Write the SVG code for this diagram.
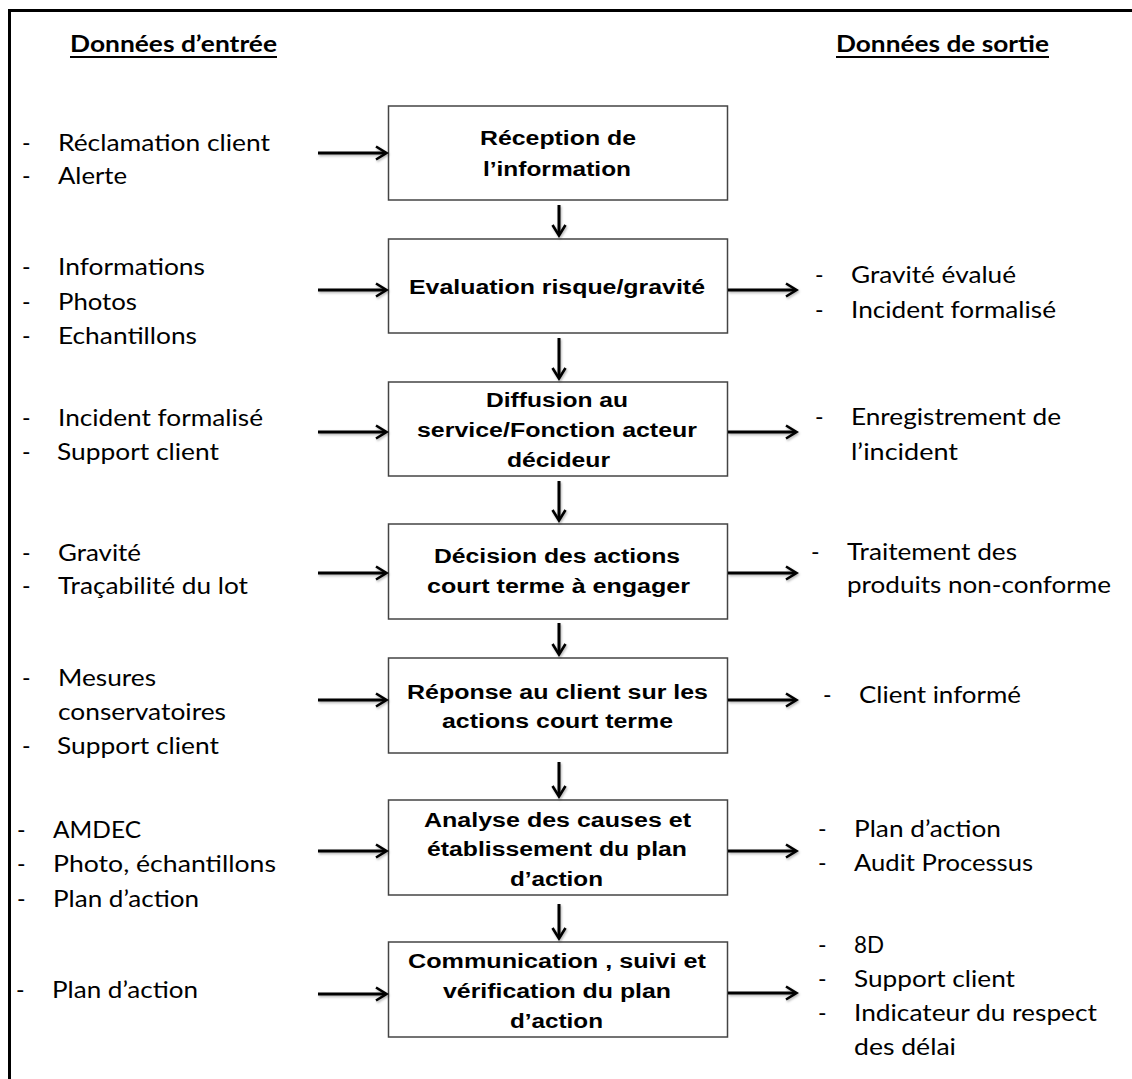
<svg xmlns="http://www.w3.org/2000/svg" width="1132" height="1079" viewBox="0 0 1132 1079">
<defs>
<style>
.frame{fill:none;stroke:#000;stroke-width:3}
.box{fill:#fff;stroke:#444;stroke-width:1.5}
.bt{font-family:"Liberation Sans",Arial,sans-serif;font-weight:bold;font-size:20px;fill:#000}
.lt{font-family:Lato,"Open Sans",sans-serif;font-size:23px;fill:#000}
.hd{font-family:Lato,"Open Sans",sans-serif;font-weight:bold;font-size:22px;fill:#000}
.ul{stroke:#000;stroke-width:2}
.con{stroke:#000;stroke-width:3;fill:none}
</style>
<marker id="arr" viewBox="0 0 16 16" refX="13" refY="8" markerWidth="16" markerHeight="16" markerUnits="userSpaceOnUse" orient="auto">
<path d="M3,1.5 L13.5,8 L3,14.5" fill="none" stroke="#000" stroke-width="2.6" stroke-linejoin="miter"/>
</marker>
<filter id="sh" x="-20%" y="-50%" width="140%" height="200%">
<feDropShadow dx="1" dy="1.5" stdDeviation="1" flood-color="#000" flood-opacity="0.3"/>
</filter>
</defs>

<polyline class="frame" points="9.5,1079 9.5,10.5 1132,10.5"/>

<g id="headers">
<text class="hd" x="70" y="52" textLength="207" lengthAdjust="spacingAndGlyphs">Données d’entrée</text>
<line class="ul" x1="70" y1="57" x2="277" y2="57"/>
<text class="hd" x="836" y="52" textLength="213" lengthAdjust="spacingAndGlyphs">Données de sortie</text>
<line class="ul" x1="836" y1="57" x2="1049" y2="57"/>
</g>

<g id="node1">
<rect class="box" x="388.5" y="106" width="339" height="94"/>
<text class="bt" x="480" y="145" textLength="156" lengthAdjust="spacingAndGlyphs">Réception de</text>
<text class="bt" x="483" y="176" textLength="148" lengthAdjust="spacingAndGlyphs">l’information</text>
</g>
<g id="node2">
<rect class="box" x="388.5" y="239" width="339" height="94"/>
<text class="bt" x="409" y="294" textLength="296" lengthAdjust="spacingAndGlyphs">Evaluation risque/gravité</text>
</g>
<g id="node3">
<rect class="box" x="388.5" y="382" width="339" height="94"/>
<text class="bt" x="486" y="407" textLength="142" lengthAdjust="spacingAndGlyphs">Diffusion au</text>
<text class="bt" x="417" y="437" textLength="280" lengthAdjust="spacingAndGlyphs">service/Fonction acteur</text>
<text class="bt" x="507" y="467" textLength="103" lengthAdjust="spacingAndGlyphs">décideur</text>
</g>
<g id="node4">
<rect class="box" x="388.5" y="524" width="339" height="95"/>
<text class="bt" x="434" y="563" textLength="246" lengthAdjust="spacingAndGlyphs">Décision des actions</text>
<text class="bt" x="427" y="593" textLength="263" lengthAdjust="spacingAndGlyphs">court terme à engager</text>
</g>
<g id="node5">
<rect class="box" x="388.5" y="658" width="339" height="95"/>
<text class="bt" x="407" y="699" textLength="301" lengthAdjust="spacingAndGlyphs">Réponse au client sur les</text>
<text class="bt" x="442" y="728" textLength="231" lengthAdjust="spacingAndGlyphs">actions court terme</text>
</g>
<g id="node6">
<rect class="box" x="388.5" y="800" width="339" height="95"/>
<text class="bt" x="424" y="827" textLength="267" lengthAdjust="spacingAndGlyphs">Analyse des causes et</text>
<text class="bt" x="427" y="856" textLength="260" lengthAdjust="spacingAndGlyphs">établissement du plan</text>
<text class="bt" x="510" y="886" textLength="93" lengthAdjust="spacingAndGlyphs">d’action</text>
</g>
<g id="node7">
<rect class="box" x="388.5" y="942" width="339" height="95"/>
<text class="bt" x="408" y="968" textLength="298" lengthAdjust="spacingAndGlyphs">Communication , suivi et</text>
<text class="bt" x="443" y="998" textLength="228" lengthAdjust="spacingAndGlyphs">vérification du plan</text>
<text class="bt" x="510" y="1028" textLength="93" lengthAdjust="spacingAndGlyphs">d’action</text>
</g>

<g id="inputs">
<g id="in1">
<text class="lt" x="22" y="151">-</text><text class="lt" x="58" y="151" textLength="212" lengthAdjust="spacingAndGlyphs">Réclamation client</text>
<text class="lt" x="22" y="184">-</text><text class="lt" x="58" y="184" textLength="69" lengthAdjust="spacingAndGlyphs">Alerte</text>
</g>
<g id="in2">
<text class="lt" x="22" y="275">-</text><text class="lt" x="58" y="275" textLength="147" lengthAdjust="spacingAndGlyphs">Informations</text>
<text class="lt" x="22" y="310">-</text><text class="lt" x="58" y="310" textLength="79" lengthAdjust="spacingAndGlyphs">Photos</text>
<text class="lt" x="22" y="344">-</text><text class="lt" x="58" y="344" textLength="139" lengthAdjust="spacingAndGlyphs">Echantillons</text>
</g>
<g id="in3">
<text class="lt" x="22" y="426">-</text><text class="lt" x="58" y="426" textLength="205" lengthAdjust="spacingAndGlyphs">Incident formalisé</text>
<text class="lt" x="22" y="460">-</text><text class="lt" x="57" y="460" textLength="162" lengthAdjust="spacingAndGlyphs">Support client</text>
</g>
<g id="in4">
<text class="lt" x="22" y="561">-</text><text class="lt" x="58" y="561" textLength="83" lengthAdjust="spacingAndGlyphs">Gravité</text>
<text class="lt" x="22" y="594">-</text><text class="lt" x="58" y="594" textLength="190" lengthAdjust="spacingAndGlyphs">Traçabilité du lot</text>
</g>
<g id="in5">
<text class="lt" x="22" y="686">-</text><text class="lt" x="58" y="686" textLength="98" lengthAdjust="spacingAndGlyphs">Mesures</text>
<text class="lt" x="58" y="720" textLength="168" lengthAdjust="spacingAndGlyphs">conservatoires</text>
<text class="lt" x="22" y="754">-</text><text class="lt" x="57" y="754" textLength="162" lengthAdjust="spacingAndGlyphs">Support client</text>
</g>
<g id="in6">
<text class="lt" x="17" y="838">-</text><text class="lt" x="53" y="838" textLength="88" lengthAdjust="spacingAndGlyphs">AMDEC</text>
<text class="lt" x="17" y="872">-</text><text class="lt" x="53" y="872" textLength="223" lengthAdjust="spacingAndGlyphs">Photo, échantillons</text>
<text class="lt" x="17" y="907">-</text><text class="lt" x="53" y="907" textLength="146" lengthAdjust="spacingAndGlyphs">Plan d’action</text>
</g>
<g id="in7">
<text class="lt" x="16" y="998">-</text><text class="lt" x="52" y="998" textLength="146" lengthAdjust="spacingAndGlyphs">Plan d’action</text>
</g>
</g>

<g id="outputs">
<g id="out2">
<text class="lt" x="815" y="283">-</text><text class="lt" x="851" y="283" textLength="165" lengthAdjust="spacingAndGlyphs">Gravité évalué</text>
<text class="lt" x="815" y="318">-</text><text class="lt" x="851" y="318" textLength="205" lengthAdjust="spacingAndGlyphs">Incident formalisé</text>
</g>
<g id="out3">
<text class="lt" x="815" y="425">-</text><text class="lt" x="851" y="425" textLength="210" lengthAdjust="spacingAndGlyphs">Enregistrement de</text>
<text class="lt" x="851" y="460" textLength="107" lengthAdjust="spacingAndGlyphs">l’incident</text>
</g>
<g id="out4">
<text class="lt" x="811" y="560">-</text><text class="lt" x="847" y="560" textLength="170" lengthAdjust="spacingAndGlyphs">Traitement des</text>
<text class="lt" x="847" y="593" textLength="264" lengthAdjust="spacingAndGlyphs">produits non-conforme</text>
</g>
<g id="out5">
<text class="lt" x="823" y="703">-</text><text class="lt" x="859" y="703" textLength="162" lengthAdjust="spacingAndGlyphs">Client informé</text>
</g>
<g id="out6">
<text class="lt" x="818" y="837">-</text><text class="lt" x="854" y="837" textLength="147" lengthAdjust="spacingAndGlyphs">Plan d’action</text>
<text class="lt" x="818" y="871">-</text><text class="lt" x="854" y="871" textLength="179" lengthAdjust="spacingAndGlyphs">Audit Processus</text>
</g>
<g id="out7">
<text class="lt" x="818" y="953">-</text><text class="lt" x="854" y="953" textLength="30" lengthAdjust="spacingAndGlyphs">8D</text>
<text class="lt" x="818" y="987">-</text><text class="lt" x="854" y="987" textLength="161" lengthAdjust="spacingAndGlyphs">Support client</text>
<text class="lt" x="818" y="1021">-</text><text class="lt" x="854" y="1021" textLength="243" lengthAdjust="spacingAndGlyphs">Indicateur du respect</text>
<text class="lt" x="854" y="1055" textLength="102" lengthAdjust="spacingAndGlyphs">des délai</text>
</g>
</g>

<g id="connectors" filter="url(#sh)">
<line class="con" x1="318" y1="153" x2="386" y2="153" marker-end="url(#arr)"/>
<line class="con" x1="318" y1="290" x2="386" y2="290" marker-end="url(#arr)"/>
<line class="con" x1="318" y1="432" x2="386" y2="432" marker-end="url(#arr)"/>
<line class="con" x1="318" y1="573" x2="386" y2="573" marker-end="url(#arr)"/>
<line class="con" x1="318" y1="700" x2="386" y2="700" marker-end="url(#arr)"/>
<line class="con" x1="318" y1="851" x2="386" y2="851" marker-end="url(#arr)"/>
<line class="con" x1="318" y1="994" x2="386" y2="994" marker-end="url(#arr)"/>

<line class="con" x1="728" y1="290" x2="796" y2="290" marker-end="url(#arr)"/>
<line class="con" x1="728" y1="432" x2="796" y2="432" marker-end="url(#arr)"/>
<line class="con" x1="728" y1="573" x2="796" y2="573" marker-end="url(#arr)"/>
<line class="con" x1="728" y1="700" x2="796" y2="700" marker-end="url(#arr)"/>
<line class="con" x1="728" y1="851" x2="796" y2="851" marker-end="url(#arr)"/>
<line class="con" x1="728" y1="993" x2="796" y2="993" marker-end="url(#arr)"/>

<line class="con" x1="559" y1="205" x2="559" y2="235" marker-end="url(#arr)"/>
<line class="con" x1="559" y1="338" x2="559" y2="378" marker-end="url(#arr)"/>
<line class="con" x1="559" y1="481" x2="559" y2="520" marker-end="url(#arr)"/>
<line class="con" x1="559" y1="623" x2="559" y2="654" marker-end="url(#arr)"/>
<line class="con" x1="559" y1="762" x2="559" y2="796" marker-end="url(#arr)"/>
<line class="con" x1="559" y1="904" x2="559" y2="938" marker-end="url(#arr)"/>
</g>
</svg>
